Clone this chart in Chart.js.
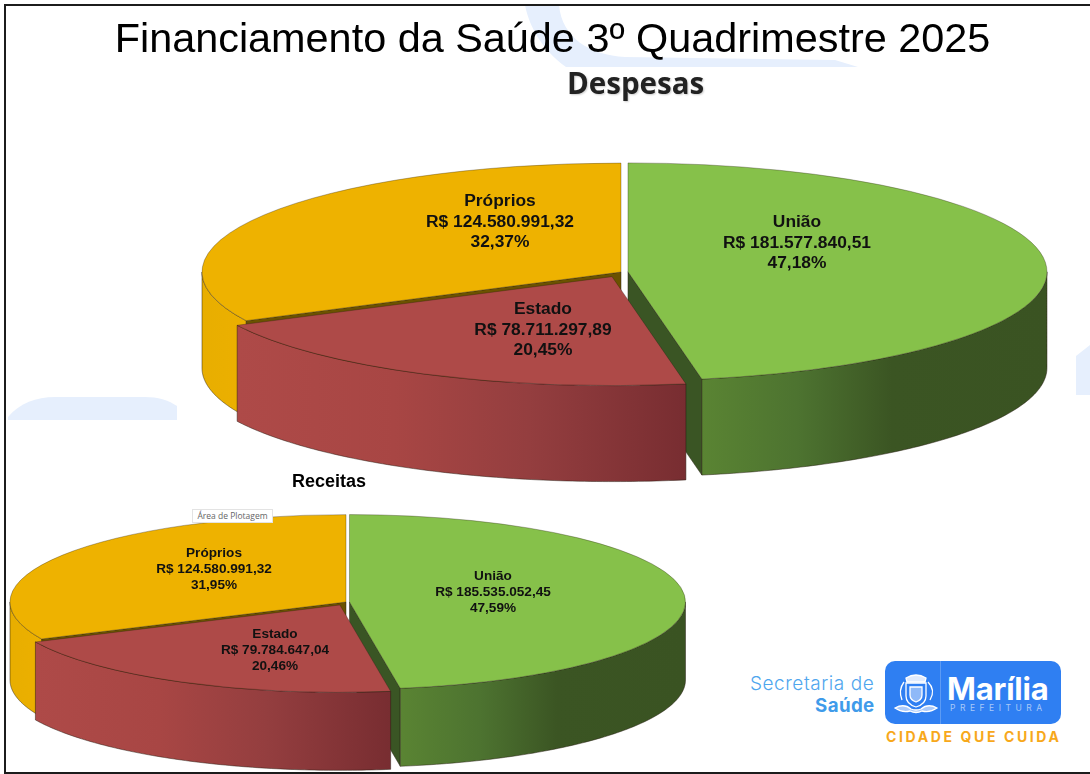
<!DOCTYPE html>
<html lang="pt-BR">
<head>
<meta charset="utf-8">
<title>Financiamento da Saúde 3º Quadrimestre 2025</title>
<script src="https://cdn.jsdelivr.net/npm/chart.js@4/dist/chart.umd.min.js"></script>
<style>
html,body{margin:0;padding:0;background:#fff;}
#page{position:relative;width:1090px;height:774px;overflow:hidden;background:#fff;font-family:"Liberation Sans",Arial,sans-serif;}
#page div.t{position:absolute;white-space:nowrap;}
canvas{position:absolute;display:block;}
#frame{position:absolute;left:4px;top:4px;width:1090px;height:766px;border:2px solid #1c1c1c;border-right:none;z-index:5;}
#title{left:0;width:1105px;top:14px;text-align:center;font-size:41.4px;line-height:48px;color:#000;}
#despesas{left:567px;top:63px;font:700 29.5px/40px "Open Sans",sans-serif;color:#222;text-shadow:1px 1px 2px rgba(0,0,0,.2);}
#receitas{left:292px;top:471px;font:700 18px/20px "Liberation Sans",sans-serif;color:#000;}
#tip{left:192px;top:509px;width:81px;height:14px;background:#fff;border:1px solid #e3e3e3;box-sizing:border-box;font:8.5px/12px "Open Sans",sans-serif;color:#666;text-align:center;z-index:3;}
#wm{position:absolute;left:0;top:0;}
#sec1{left:750px;top:673px;font:300 19px/22px "Inter",sans-serif;letter-spacing:.55px;color:#4fa6ee;}
#sec2{left:815px;top:695px;font:700 18.7px/22px "Inter",sans-serif;letter-spacing:.4px;color:#3f9bea;}
#logo{position:absolute;left:885px;top:661px;width:176px;height:63px;border-radius:10px;background:#2f7ff2;}
#logo i{position:absolute;left:55px;top:0;width:1px;height:63px;background:#5c9bf4;}
#mar{left:947px;top:671px;font:700 31px/36px "Inter",sans-serif;color:#fff;letter-spacing:-.2px;}
#pre{left:950px;top:702px;font:400 8.5px/12px "Inter",sans-serif;letter-spacing:4.5px;color:#a9c9f8;}
#cid{left:886px;top:728px;font:700 14px/18px "Inter",sans-serif;letter-spacing:2.62px;color:#f7a81b;}
#crest{position:absolute;left:892px;top:670px;}
</style>
</head>
<body>
<div id="page">
  <svg id="wm" width="1090" height="774">
    <g fill="#e6effd">
      <path d="M525 5 L559 5 C562 38 590 55 625 57 L835 60 L858 67 L566 67 C542 50 529 26 525 5Z"/>
      <path d="M8 417 C20 403 36 397 55 397 L145 397 C158 397 168 400 177 406 L177 420 L8 420Z"/>
      <path d="M1090 345 L1076 356 L1076 395 L1090 395Z"/>
    </g>
  </svg>
  <canvas id="chartDespesas" width="860" height="450" style="left:191px;top:47px"></canvas>
  <canvas id="chartReceitas" width="690" height="344" style="left:1px;top:430px"></canvas>
  <div id="frame"></div>
  <div class="t" id="title">Financiamento da Saúde 3º Quadrimestre 2025</div>
  <div class="t" id="despesas">Despesas</div>
  <div class="t" id="receitas">Receitas</div>
  <div class="t" id="tip">Área de Plotagem</div>
  <div class="t" id="sec1">Secretaria de</div>
  <div class="t" id="sec2">Saúde</div>
  <div id="logo"><i></i></div>
  <svg id="crest" width="48" height="46" viewBox="0 0 48 46" fill="none" stroke="#fff" stroke-width="1.3">
    <path d="M14 8 Q24 2 34 8 L33 12 L15 12Z" fill="#dfeafd"/>
    <path d="M14 13 H34 V26 Q34 34 24 37 Q14 34 14 26Z"/>
    <path d="M18 17 H30 V25 Q30 30 24 32 Q18 30 18 25Z" fill="#dfeafd" fill-opacity=".55"/>
    <path d="M12 12 Q6 20 10 30 M36 12 Q44 20 38 30"/>
    <path d="M3 38 Q12 33 19 39 Q24 41 29 39 Q36 33 45 38 Q38 43 30 41 Q24 44 18 41 Q10 43 3 38Z" fill="#dfeafd" fill-opacity=".7"/>
  </svg>
  <div class="t" id="mar">Marília</div>
  <div class="t" id="pre">PREFEITURA</div>
  <div class="t" id="cid">CIDADE QUE CUIDA</div>
</div>
<script>
const categories = ['União', 'Estado', 'Próprios'];
const despesasValues = [181577840.51, 78711297.89, 124580991.32];
const receitasValues = [185535052.45, 79784647.04, 124580991.32];
const topColors = ['#86c14a', '#ae4a48', '#eeb200'];
const faceColors = ['#3a5524', '#6f2c2e', '#6b5200'];
const wallStops = [
  [[0, '#5a8433'], [0.28, '#4d7330'], [0.55, '#3b5523'], [1, '#3a5322']],
  [[0, '#ae4a48'], [0.35, '#a84644'], [0.65, '#943e3f'], [1, '#782d31']],
  [[0, '#e8ae00'], [1, '#ecb000']]
];

const brl = v => v.toLocaleString('pt-BR', {minimumFractionDigits: 2, maximumFractionDigits: 2});

const pie3d = {
  id: 'pie3d',
  afterDatasetsUpdate(chart, args, opts) {
    const meta = chart.getDatasetMeta(0);
    const cx = (chart.chartArea.left + chart.chartArea.right) / 2;
    const cy = (chart.chartArea.top + chart.chartArea.bottom) / 2;
    meta.data.forEach((arc, i) => {
      const mid = (arc.startAngle + arc.endAngle) / 2;
      arc.x = cx + Math.cos(mid) * opts.explode[i];
      arc.y = cy + Math.sin(mid) * opts.explode[i];
    });
  },
  beforeDatasetsDraw(chart, args, opts) {
    const ctx = chart.ctx, k = opts.squash, depth = opts.depth;
    const meta = chart.getDatasetMeta(0);
    const cx = (chart.chartArea.left + chart.chartArea.right) / 2;
    const cy = (chart.chartArea.top + chart.chartArea.bottom) / 2;
    const order = meta.data.map((a, i) => i).sort((p, q) => {
      const m = a => Math.sin((a.startAngle + a.endAngle) / 2);
      return m(meta.data[p]) - m(meta.data[q]);
    });
    ctx.save();
    ctx.lineWidth = 0.8;
    ctx.strokeStyle = 'rgba(35,25,15,.6)';
    ctx.lineJoin = 'round';
    order.forEach(i => {
      const arc = meta.data[i];
      const ax = arc.x, ay = cy + (arc.y - cy) * k;
      const px = t => ax + Math.cos(t) * arc.outerRadius;
      const py = t => ay + Math.sin(t) * arc.outerRadius * k;
      const face = t => {
        ctx.beginPath();
        ctx.moveTo(ax, ay);
        ctx.lineTo(px(t), py(t));
        ctx.lineTo(px(t), py(t) + depth);
        ctx.lineTo(ax, ay + depth);
        ctx.closePath();
        ctx.fillStyle = faceColors[i];
        ctx.fill();
        ctx.stroke();
      };
      if (Math.cos(arc.startAngle) < -1e-3) face(arc.startAngle);
      if (Math.cos(arc.endAngle) > 1e-3) face(arc.endAngle);
      const a0 = Math.max(arc.startAngle, 0), a1 = Math.min(arc.endAngle, Math.PI);
      if (a1 > a0) {
        const steps = 90;
        const x0 = Math.min(px(a0), px(a1)), x1 = Math.max(px(a0), px(a1));
        const g = ctx.createLinearGradient(x0, 0, x1, 0);
        wallStops[i].forEach(s => g.addColorStop(s[0], s[1]));
        ctx.beginPath();
        for (let s = 0; s <= steps; s++) {
          const t = a0 + (a1 - a0) * s / steps;
          s ? ctx.lineTo(px(t), py(t)) : ctx.moveTo(px(t), py(t));
        }
        for (let s = steps; s >= 0; s--) {
          const t = a0 + (a1 - a0) * s / steps;
          ctx.lineTo(px(t), py(t) + depth);
        }
        ctx.closePath();
        ctx.fillStyle = g;
        ctx.fill();
        ctx.stroke();
      }
    });
    ctx.restore();
    ctx.save();
    ctx.translate(cx, cy);
    ctx.scale(1, k);
    ctx.translate(-cx, -cy);
  },
  afterDatasetsDraw(chart, args, opts) {
    const ctx = chart.ctx;
    ctx.restore();
    const cx = (chart.chartArea.left + chart.chartArea.right) / 2;
    const cy = (chart.chartArea.top + chart.chartArea.bottom) / 2;
    const data = chart.data.datasets[0].data;
    const total = data.reduce((s, v) => s + v, 0);
    ctx.save();
    ctx.textAlign = 'center';
    ctx.textBaseline = 'middle';
    ctx.fillStyle = '#111';
    ctx.font = '700 ' + opts.fontSize + 'px "Liberation Sans", Arial, sans-serif';
    data.forEach((v, i) => {
      const lines = [chart.data.labels[i], 'R$ ' + brl(v), brl(v / total * 100) + '%'];
      const [dx, dy] = opts.labelAt[i];
      lines.forEach((line, n) => ctx.fillText(line, cx + dx, cy + dy + (n - 1) * opts.lineGap));
    });
    ctx.restore();
  }
};

function makePie(id, values, radius, cfg) {
  return new Chart(document.getElementById(id), {
    type: 'pie',
    plugins: [pie3d],
    data: {
      labels: categories,
      datasets: [{
        data: values,
        backgroundColor: topColors,
        borderColor: 'rgba(35,25,15,.55)',
        borderWidth: 0.9,
        clip: false
      }]
    },
    options: {
      responsive: false,
      animation: false,
      radius: radius,
      layout: {padding: 0},
      events: [],
      plugins: {
        legend: {display: false},
        title: {display: false},
        tooltip: {enabled: false},
        pie3d: cfg
      }
    }
  });
}

makePie('chartDespesas', despesasValues, 419, {
  squash: 0.26, depth: 96, explode: [7, 20, 0], fontSize: 17.4, lineGap: 20.5,
  labelAt: [[176, -29], [-78, 58], [-121, -50]]
});
makePie('chartReceitas', receitasValues, 336, {
  squash: 0.26, depth: 78, explode: [3.5, 13, 0], fontSize: 13.6, lineGap: 16,
  labelAt: [[147, -10], [-71, 48], [-132, -33]]
});
</script>
</body>
</html>
